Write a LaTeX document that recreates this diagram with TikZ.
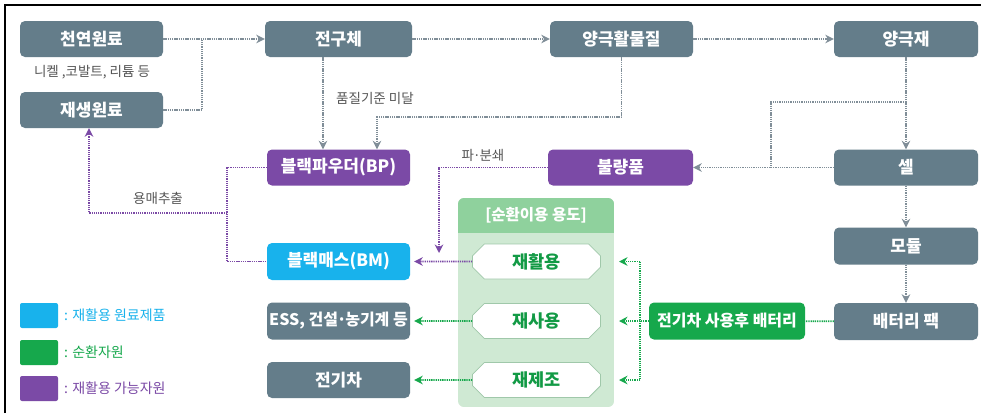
\documentclass[tikz,border=0pt]{standalone}
\usepackage{fontspec}
\setmainfont{Noto Sans CJK KR}
\usetikzlibrary{arrows.meta,shapes.misc}
\definecolor{boxgray}{RGB}{100,125,138}
\definecolor{linegray}{RGB}{128,142,152}
\definecolor{purp}{RGB}{123,74,166}
\definecolor{cyanc}{RGB}{24,178,236}
\definecolor{greenc}{RGB}{22,168,76}
\definecolor{txtgreen}{RGB}{18,154,69}
\definecolor{panelgreen}{RGB}{207,233,211}
\definecolor{headgreen}{RGB}{143,209,157}
\definecolor{wborder}{RGB}{160,200,170}
\definecolor{labgray}{RGB}{85,85,85}
\newcommand{\mdot}{\kern-0.08em·\kern-0.08em}
\tikzset{
  box/.style={rounded corners=5pt, inner sep=0pt, minimum height=36pt, text=white,
    font=\fontsize{17}{18}\selectfont\bfseries},
  gbox/.style={box, fill=boxgray},
  pbox/.style={box, fill=purp},
  cbox/.style={box, fill=cyanc},
  grbox/.style={box, fill=greenc, font=\fontsize{16}{18}\selectfont\bfseries},
  wbox/.style={chamfered rectangle, chamfered rectangle xsep=9pt, fill=white, draw=wborder,
    line width=0.8pt, minimum width=128pt, minimum height=35pt, inner sep=0pt,
    text=txtgreen, font=\fontsize{17.5}{18}\selectfont\bfseries},
  lab/.style={text=labgray, inner sep=0pt, font=\fontsize{13.5}{15}\selectfont},
  con/.style={draw=linegray, line width=1.7pt, dash pattern=on 1.3pt off 0.9pt},
  pcon/.style={con, draw=purp},
  gcon/.style={con, draw=greenc},
  arr/.style={-{Stealth[length=8.5pt,width=8.5pt]}},
  legsq/.style={minimum width=38pt, minimum height=25pt, inner sep=0pt, rounded corners=2pt},
  legtxt/.style={inner sep=0pt, anchor=west, font=\fontsize{14}{16}\selectfont}
}
\begin{document}
\begin{tikzpicture}[x=1pt,y=-1pt]
\useasboundingbox (0,0) rectangle (981,413);
\fill[white] (0,0) rectangle (981,413);
\draw[line width=2pt] (5,413) -- (5,5) -- (981,5);

% panel
\begin{scope}
  \clip[rounded corners=6pt] (458,198) rectangle (614,407);
  \fill[panelgreen] (458,198) rectangle (614,407);
  \fill[headgreen] (458,198) rectangle (614,233);
\end{scope}
\node[inner sep=0pt, minimum width=156pt, minimum height=209pt] (panel) at (536,302.5) {};
\node[inner sep=0pt, text=white, font=\fontsize{15.5}{17}\selectfont\bfseries] (head) at (536,215.5) {[순환이용 용도]};

% nodes
\node[gbox, minimum width=143pt] (nat) at (91.5,39) {천연원료};
\node[lab] (natlab) at (92,72) {니켈 ,코발트, 리튬 등};
\node[gbox, minimum width=143pt] (rec) at (91.5,110) {재생원료};
\node[gbox, minimum width=147pt] (pre) at (338.5,39) {전구체};
\node[gbox, minimum width=143pt] (cam) at (621.5,39) {양극활물질};
\node[gbox, minimum width=144pt] (cat) at (906,39) {양극재};
\node[gbox, minimum width=144pt] (cell) at (906,167.5) {셀};
\node[gbox, minimum width=144pt, minimum height=37pt] (mod) at (906,246) {모듈};
\node[gbox, minimum width=144pt, minimum height=37pt] (pack) at (906,321.5) {배터리 팩};
\node[pbox, minimum width=143pt] (bp) at (338.5,167.5) {블랙파우더(BP)};
\node[cbox, minimum width=143pt, minimum height=37pt] (bm) at (338.5,261.5) {블랙매스(BM)};
\node[gbox, minimum width=143pt, minimum height=37pt, font=\fontsize{16}{18}\selectfont\bfseries] (ess) at (338.5,321) {ESS, 건설\mdot 농기계 등};
\node[gbox, minimum width=143pt] (ev) at (338.5,380) {전기차};
\node[pbox, minimum width=145pt] (bad) at (620.5,167.5) {불량품};
\node[grbox, minimum width=156pt, minimum height=37pt] (used) at (727,321) {전기차 사용후 배터리};
\node[wbox] (wrec) at (536.5,261.5) {재활용};
\node[wbox] (wreuse) at (536.5,321) {재사용};
\node[wbox] (wreman) at (536.5,380) {재제조};

% labels
\node[lab] (l1) at (375,98) {품질기준 미달};
\node[lab] (l2) at (483,155) {파\mdot 분쇄};
\node[lab] (l3) at (158,198) {용매추출};

% gray connectors
\draw[con,arr] (nat) -- (pre);
\coordinate (j1) at (202,39);
\draw[con] (rec.east) -- (rec.east -| j1) -- (j1);
\draw[con,arr] (pre) -- (cam);
\draw[con,arr] (cam) -- (cat);
\coordinate (p1) at (323,57);
\draw[con,arr] (pre.south -| p1) -- (bp.north -| p1);
\coordinate (p2) at (377,117);
\draw[con,arr] (cam.south) -- (cam.south |- p2) -- (p2) -- (bp.north -| p2);
\draw[con,arr] (cat) -- (cell);
\draw[con,arr] (cell) -- (mod);
\draw[con,arr] (mod) -- (pack);
\coordinate (b1) at (906,102);
\coordinate (b2) at (771,102);
\draw[con] (b1) -- (b2) -- (b2 |- cell.west);
\draw[con,arr] (cell) -- (bad);

% purple connectors
\coordinate (q1) at (439,167.5);
\coordinate (q2) at (439,253);
\draw[pcon,arr] (bad.west) -- (q1) -- (q2);
\draw[pcon,arr,shorten >=4pt] (wrec) -- (bm);
\coordinate (r1) at (227,167.5);
\draw[pcon] (bp.west) -- (r1) -- (r1 |- bm.west) -- (bm.west);
\coordinate (r2) at (227,213);
\coordinate (r3) at (89,213);
\draw[pcon,arr] (r2) -- (r3) -- (r3 |- rec.south);

% green connectors
\draw[gcon] (pack) -- (used);
\coordinate (s1) at (640,261.5);
\coordinate (s2) at (640,380);
\coordinate (t1) at (619,300);
\draw[gcon] (used.west) -- (used.west -| s1);
\draw[gcon] (s1) -- (s2);
\draw[gcon,arr] (s1) -- (s1 -| t1);
\draw[gcon,arr] (used.west -| s1) -- (used.west -| t1);
\draw[gcon,arr] (s2) -- (s2 -| t1);
\draw[gcon,arr,shorten >=4pt] (wreuse) -- (ess);
\draw[gcon,arr,shorten >=4pt] (wreman) -- (ev);

% legend
\node[legsq, fill=cyanc] (lg1) at (39,315.5) {};
\node[legtxt, text=cyanc] (lt1) at (64,315.5) {: 재활용 원료제품};
\node[legsq, fill=greenc] (lg2) at (39,352.5) {};
\node[legtxt, text=greenc] (lt2) at (64,352.5) {: 순환자원};
\node[legsq, fill=purp] (lg3) at (39,388.5) {};
\node[legtxt, text=purp] (lt3) at (64,388.5) {: 재활용 가능자원};
\end{tikzpicture}
\end{document}
